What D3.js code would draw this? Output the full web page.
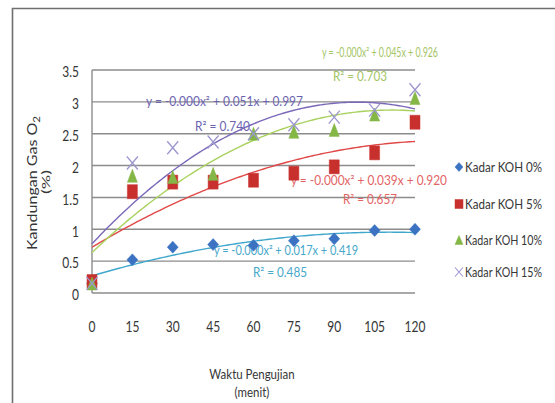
<!DOCTYPE html>
<html><head><meta charset="utf-8">
<script src="https://cdn.jsdelivr.net/npm/d3@7"></script>
<style>
html,body{margin:0;padding:0;background:#fff;}
text{font-family:Lato,"Open Sans",sans-serif;}
</style></head>
<body><svg id="c" width="555" height="403"></svg>
<script>
// ---- data ----
const times = [0, 15, 30, 45, 60, 75, 90, 105, 120];
const koh0  = [0.15, 0.52, 0.72, 0.76, 0.75, 0.82, 0.85, 0.98, 1.00];
const koh5  = [0.18, 1.59, 1.74, 1.74, 1.77, 1.88, 1.98, 2.20, 2.68];
const koh10 = [0.15, 1.84, 1.82, 1.87, 2.50, 2.53, 2.56, 2.80, 3.06];
const koh15 = [0.15, 2.04, 2.28, 2.37, 2.50, 2.64, 2.76, 2.87, 3.19];
const seriesNames = ["Kadar KOH 0%", "Kadar KOH 5%", "Kadar KOH 10%", "Kadar KOH 15%"];
const yTicks = [0, 0.5, 1, 1.5, 2, 2.5, 3, 3.5];
const yTickLabels = ["0", "0.5", "1", "1.5", "2", "2.5", "3", "3.5"];
const equations = ["y = -0.000x² + 0.017x + 0.419", "y = -0.000x² + 0.039x + 0.920",
                   "y = -0.000x² + 0.045x + 0.926", "y = -0.000x² + 0.051x + 0.997"];
const r2Labels = ["R² = 0.485", "R² = 0.657", "R² = 0.703", "R² = 0.740"];

// ---- styles ----
const markerColors = ["#3B72C2", "#C8302E", "#84B746", "#9C96CE"];
const lineColors   = ["#3FA6CC", "#E04848", "#A9D15E", "#7A69B9"];
const textColors   = ["#45A7CA", "#E26464", "#A3C464", "#6C63AF"];
const markerTypes  = ["diamond", "square", "triangle", "x"];
const ink = "#363636";

const svg = d3.select("#c");
const x = d3.scaleLinear().domain([0, 120]).range([92, 415]);
const y = d3.scaleLinear().domain([0, 3.5]).range([293, 70]);

// outer frame
svg.append("path").attr("d", "M12.5,403 V8.5 H555").attr("fill", "none")
  .attr("stroke", "#6f6f6f").attr("stroke-width", 1.6);

// gridlines
svg.append("g").selectAll("line").data(yTicks).join("line")
  .attr("x1", x(0)).attr("x2", x(120)).attr("y1", d => y(d)).attr("y2", d => y(d))
  .attr("stroke", "#8c8c8c").attr("stroke-width", 1.4);
// y axis line
svg.append("line").attr("x1", x(0)).attr("x2", x(0)).attr("y1", y(0)).attr("y2", y(3.5))
  .attr("stroke", "#8c8c8c").attr("stroke-width", 1.4);

// y tick labels (slightly tall glyphs as in the reference)
svg.append("g").selectAll("text").data(yTicks).join("text")
  .attr("transform", d => `translate(79,${y(d) + 2}) scale(1,1.25)`)
  .attr("dy", "0.35em").attr("text-anchor", "end")
  .attr("font-size", 12).attr("fill", ink).text((d, i) => yTickLabels[i]);
// x tick labels
svg.append("g").selectAll("text").data(times).join("text")
  .attr("transform", d => `translate(${x(d)},327) scale(1,1.25)`)
  .attr("dy", "0.35em").attr("text-anchor", "middle")
  .attr("font-size", 12).attr("fill", ink).text(d => d);

// axis titles
svg.append("text").attr("transform", "translate(252,379) scale(1,1.12)").attr("text-anchor", "middle")
  .attr("font-size", 11.5).attr("fill", ink).text("Waktu Pengujian");
svg.append("text").attr("transform", "translate(252,397) scale(1,1.12)").attr("text-anchor", "middle")
  .attr("font-size", 11.5).attr("fill", ink).text("(menit)");
const yt = svg.append("text").attr("transform", "translate(37,250) rotate(-90)")
  .attr("font-size", 12.5).attr("fill", ink)
  .attr("textLength", 134).attr("lengthAdjust", "spacingAndGlyphs");
yt.append("tspan").text("Kandungan Gas O");
yt.append("tspan").attr("font-size", 9).attr("dy", 3).text("2");
svg.append("text").attr("transform", "translate(50,182) rotate(-90)")
  .attr("text-anchor", "middle").attr("font-size", 12).attr("fill", ink)
  .attr("textLength", 24).attr("lengthAdjust", "spacingAndGlyphs").text("(%)");

// quadratic least-squares trendlines
function polyfit2(xs, ys) {
  const n = xs.length;
  let S = [0,0,0,0,0], T = [0,0,0];
  for (let i = 0; i < n; i++) {
    const xi = xs[i], yi = ys[i];
    for (let k = 0; k < 5; k++) S[k] += Math.pow(xi, k);
    for (let k = 0; k < 3; k++) T[k] += yi * Math.pow(xi, k);
  }
  const A = [[S[0],S[1],S[2],T[0]],[S[1],S[2],S[3],T[1]],[S[2],S[3],S[4],T[2]]];
  for (let i = 0; i < 3; i++) {
    let p = i; for (let r = i+1; r < 3; r++) if (Math.abs(A[r][i]) > Math.abs(A[p][i])) p = r;
    [A[i], A[p]] = [A[p], A[i]];
    for (let r = 0; r < 3; r++) if (r !== i) {
      const f = A[r][i] / A[i][i];
      for (let c = i; c < 4; c++) A[r][c] -= f * A[i][c];
    }
  }
  return [A[0][3]/A[0][0], A[1][3]/A[1][1], A[2][3]/A[2][2]];
}
const allSeries = [koh0, koh5, koh10, koh15];
const line = d3.line().x(d => x(d[0])).y(d => y(d[1]));
allSeries.forEach((vals, si) => {
  const [c, b, a] = polyfit2(times, vals);
  const pts = d3.range(0, 120.01, 1).map(t => [t, c + b*t + a*t*t]);
  svg.append("path").attr("d", line(pts)).attr("fill", "none")
    .attr("stroke", lineColors[si]).attr("stroke-width", 1.4);
});

// equation labels
const eqPos = [
  {x: 214, y: 255, w: 144, fs: 12.5, rx: 253, ry: 277, rw: 54},
  {x: 291, y: 185, w: 156, fs: 13,   rx: 343, ry: 204, rw: 54},
  {x: 322, y: 57,  w: 116, fs: 12.5, rx: 333, ry: 81,  rw: 54},
  {x: 146, y: 106, w: 157, fs: 12.5, rx: 195, ry: 131, rw: 55}
];
eqPos.forEach((p, si) => {
  svg.append("text").attr("x", p.x).attr("y", p.y).attr("font-size", p.fs)
    .attr("fill", textColors[si]).attr("textLength", p.w).attr("lengthAdjust", "spacingAndGlyphs")
    .text(equations[si]);
  svg.append("text").attr("x", p.rx).attr("y", p.ry).attr("font-size", 12.5)
    .attr("fill", textColors[si]).attr("textLength", p.rw).attr("lengthAdjust", "spacingAndGlyphs")
    .text(r2Labels[si]);
});

// markers
function markerPath(type, w, h) {
  const a = w/2, b = h/2;
  if (type === "diamond") return `M0,${-b}L${a},0L0,${b}L${-a},0Z`;
  if (type === "square") return `M${-a},${-b}H${a}V${b}H${-a}Z`;
  if (type === "triangle") return `M0,${-b}L${a},${b}H${-a}Z`;
  return `M${-a},${-b}L${a},${b}M${a},${-b}L${-a},${b}`;
}
const sizes = [[11,12],[10,14],[10,13],[11,13]];
allSeries.forEach((vals, si) => {
  const t = markerTypes[si];
  svg.append("g").selectAll("path").data(vals).join("path")
    .attr("transform", (d, i) => `translate(${x(times[i])},${y(d)})`)
    .attr("d", markerPath(t, sizes[si][0], sizes[si][1]))
    .attr("fill", t === "x" ? "none" : markerColors[si])
    .attr("stroke", markerColors[si]).attr("stroke-width", t === "x" ? 1.3 : 0.5);
});

// legend
const legY = [167, 204, 240, 272];
const lg = svg.append("g");
seriesNames.forEach((nm, si) => {
  const t = markerTypes[si];
  lg.append("path").attr("transform", `translate(459,${legY[si]})`)
    .attr("d", markerPath(t, 8, 9))
    .attr("fill", t === "x" ? "none" : markerColors[si])
    .attr("stroke", markerColors[si]).attr("stroke-width", t === "x" ? 1.1 : 0.5);
  lg.append("text").attr("transform", `translate(465,${legY[si]}) scale(1,1.15)`).attr("dy", "0.35em")
    .attr("font-size", 12).attr("fill", ink).attr("textLength", 77)
    .attr("lengthAdjust", "spacingAndGlyphs").text(nm);
});
</script></body></html>
